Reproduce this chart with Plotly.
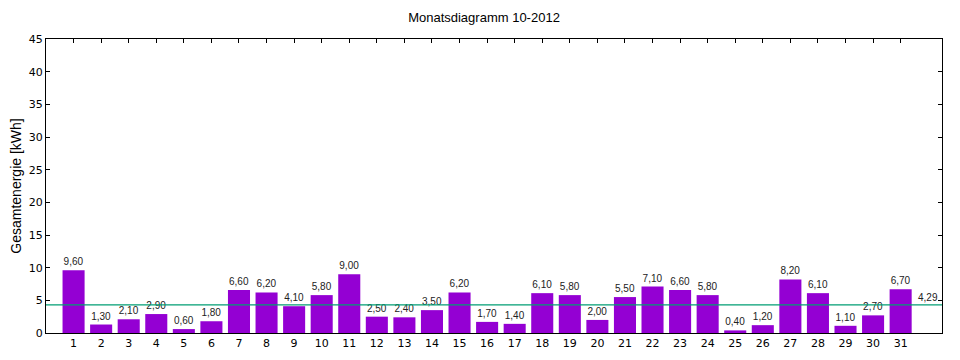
import plotly.graph_objects as go

days = list(range(1, 32))
energy = [9.6, 1.3, 2.1, 2.9, 0.6, 1.8, 6.6, 6.2, 4.1, 5.8, 9.0, 2.5, 2.4, 3.5, 6.2,
          1.7, 1.4, 6.1, 5.8, 2.0, 5.5, 7.1, 6.6, 5.8, 0.4, 1.2, 8.2, 6.1, 1.1, 2.7, 6.7]
title = "Monatsdiagramm 10-2012"
y_title = "Gesamtenergie [kWh]"
x_range = [0, 32.5]
y_range = [0, 45]
y_ticks = list(range(0, 50, 5))

avg = sum(energy) / len(energy)
labels = [f"{v:.2f}".replace(".", ",") for v in energy]

fig = go.Figure()
fig.add_trace(go.Bar(
    x=days, y=energy, width=0.8,
    marker=dict(color="#9400d3", line=dict(width=0)),
    text=labels, textposition="outside", cliponaxis=False,
    textfont=dict(family="Liberation Sans, Arial, sans-serif", size=10, color="#222222"),
    showlegend=False,
))
# top mirror ticks axis
fig.add_trace(go.Scatter(x=[days[0]], y=[0], xaxis="x2", mode="markers",
                         marker=dict(opacity=0), showlegend=False, hoverinfo="skip"))

fig.add_shape(type="line", xref="paper", x0=0, x1=1, yref="y", y0=avg, y1=avg,
              line=dict(color="#009e73", width=1.3), layer="above")
fig.add_annotation(x=32, y=avg, xref="x", yref="y", text=f"{avg:.2f}".replace(".", ","),
                   showarrow=False, yshift=7,
                   font=dict(family="Liberation Sans, Arial, sans-serif", size=10, color="#222222"))

fig.update_layout(
    width=952, height=352,
    margin=dict(l=38, r=18, t=31, b=27, autoexpand=False),
    paper_bgcolor="white", plot_bgcolor="white",
    title=dict(text=title, x=0.5, xanchor="center", y=0.972, yanchor="middle",
               font=dict(family="Liberation Sans, Arial, sans-serif", size=13, color="black")),
    bargap=0.2,
    xaxis=dict(range=x_range, tickmode="array", tickvals=days, ticktext=[str(d) for d in days],
               ticks="", showline=True, linecolor="black", linewidth=1, mirror=True,
               showgrid=False, zeroline=False,
               tickfont=dict(family="DejaVu Sans, sans-serif", size=11, color="black")),
    xaxis2=dict(range=x_range, overlaying="x", side="top", tickmode="array", tickvals=days,
                ticks="inside", ticklen=4, tickcolor="black", showticklabels=False,
                showline=False, showgrid=False, zeroline=False),
    yaxis=dict(range=y_range, tickmode="array", tickvals=y_ticks,
               ticks="inside", ticklen=4, tickcolor="black",
               showline=True, linecolor="black", linewidth=1, mirror="ticks",
               showgrid=False, zeroline=False,
               title=dict(text=y_title, standoff=18,
                          font=dict(family="Liberation Sans, Arial, sans-serif", size=14, color="black")),
               tickfont=dict(family="DejaVu Sans, sans-serif", size=11, color="black")),
)

fig.write_html("out.html")
